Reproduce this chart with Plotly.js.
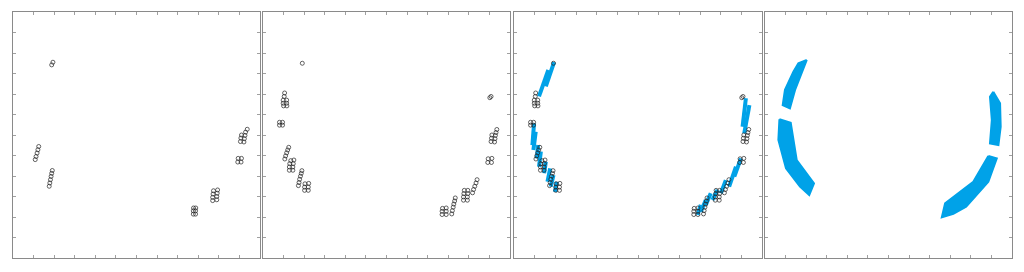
<!DOCTYPE html>
<html>
<head>
<meta charset="utf-8">
<script src="https://cdn.plot.ly/plotly-3.0.1.min.js"></script>
<style>html,body{margin:0;padding:0;background:#fff;}#chart{width:1024px;height:272px;}</style>
</head>
<body>
<div id="chart"></div>
<script>
// ---- Panel 1: detected points ----
const p1X = [1.88,1.94, 1.08,1.12,1.17,1.21,1.25, 1.76,1.79,1.82,1.85,1.88,1.91,
  8.76,8.87,8.76,8.87,8.77,8.88, 9.70,9.70,9.72,9.74,9.90,9.90,9.92,9.94,
  10.92,11.08,10.94,11.10, 11.05,11.07,11.10,11.22,11.24,11.27,11.30,11.38];
const p1Y = [9.42,9.55, 4.80,4.95,5.12,5.28,5.44, 3.50,3.66,3.82,3.98,4.13,4.27,
  2.14,2.14,2.30,2.30,2.44,2.44, 2.80,2.96,3.12,3.28,2.84,3.00,3.16,3.32,
  4.68,4.68,4.86,4.86, 5.68,5.85,6.00,5.66,5.82,5.98,6.14,6.28];

// ---- Panel 2 (and 3): detected points ----
const p2X = [1.91,
  1.05,1.03,0.98,1.15,0.98,1.15,1.00,1.16,
  0.80,0.95,0.80,0.95,
  1.06,1.10,1.15,1.20,1.25,
  1.28,1.45,1.28,1.45,1.30,1.47,1.50,1.35,
  1.72,1.75,1.78,1.82,1.86,1.89,
  2.02,2.20,2.02,2.20,2.04,2.22,
  8.70,8.90,8.70,8.90,8.72,8.90,
  9.17,9.20,9.24,9.27,9.31,9.34,
  9.74,9.93,9.74,9.93,9.76,9.95,9.78,9.95,
  10.18,10.23,10.29,10.35,10.40,
  10.92,11.10,10.94,11.12,
  11.08,11.10,11.12,11.25,11.27,11.29,11.32,11.36,
  11.02,11.08];
const p2Y = [9.50,
  8.05,7.88,7.70,7.70,7.55,7.55,7.42,7.42,
  6.62,6.62,6.48,6.48,
  4.83,4.98,5.13,5.27,5.40,
  4.28,4.28,4.44,4.44,4.60,4.60,4.78,4.75,
  3.53,3.68,3.84,3.99,4.13,4.26,
  3.30,3.30,3.46,3.46,3.62,3.64,
  2.12,2.12,2.28,2.28,2.42,2.44,
  2.15,2.31,2.48,2.63,2.78,2.93,
  2.82,2.82,2.98,2.98,3.14,3.14,3.30,3.30,
  3.18,3.34,3.50,3.66,3.82,
  4.66,4.66,4.84,4.86,
  5.68,5.84,6.00,5.66,5.82,5.98,6.12,6.27,
  7.82,7.88];

// ---- Panel 3: track segments (start -> end) ----
const s3X0 = [1.94,1.66, 0.97,1.05,1.17,1.30,1.54,1.75,1.91,2.07,
  11.22,11.39, 10.98,10.74,10.25,9.85,9.52,9.28,9.04];
const s3Y0 = [9.55,9.17, 6.57,6.16,5.51,5.19,4.70,4.37,4.05,3.72,
  7.79,7.46, 4.86,4.45,3.80,3.32,3.16,2.83,2.59];
const s3X1 = [1.54,1.21, 0.89,0.94,1.10,1.21,1.46,1.62,1.78,1.98,
  11.06,11.14, 10.66,10.41,10.01,9.60,9.28,9.04,8.88];
const s3Y1 = [8.37,7.88, 5.51,5.27,4.86,4.45,4.13,3.72,3.48,3.23,
  6.40,6.08, 3.97,3.48,3.16,2.83,2.59,2.26,2.10];

// ---- Panel 4: merged track bands (polygon outlines) ----
const bandA_X = [2.03,1.62,1.38,0.97,0.86,1.21,1.46,1.78,2.03];
const bandA_Y = [9.66,9.50,9.09,8.20,7.46,7.30,8.20,9.01,9.66];
const bandB_X = [0.70,0.65,1.02,1.70,2.15,2.38,1.54,1.25,0.70];
const bandB_Y = [6.77,5.76,4.37,3.48,3.07,3.64,4.78,6.60,6.77];
const bandC_X = [11.09,10.93,11.02,10.93,11.34,11.45,11.42,11.09];
const bandC_Y = [8.11,7.87,6.73,5.59,5.51,6.40,7.55,8.11];
const bandD_X = [10.85,10.12,8.75,8.59,9.15,9.77,10.85,11.26,10.85];
const bandD_Y = [4.98,3.72,2.67,1.99,2.15,2.50,3.72,4.86,4.98];

const BLUE = '#00A2E8';

function circles(x, y, ax) {
  return {type:'scatter', mode:'markers', x:x, y:y, xaxis:'x'+ax, yaxis:'y'+ax,
    marker:{symbol:'circle-open', size:4, color:'#222', line:{width:0.7, color:'#222'}},
    hoverinfo:'skip', showlegend:false};
}
function segs(x0,y0,x1,y1, ax) {
  const xs=[], ys=[];
  for (let i=0;i<x0.length;i++){ xs.push(x0[i],x1[i],null); ys.push(y0[i],y1[i],null); }
  return {type:'scatter', mode:'lines', x:xs, y:ys, xaxis:'x'+ax, yaxis:'y'+ax,
    line:{color:BLUE, width:4}, hoverinfo:'skip', showlegend:false};
}
function band(x, y, ax) {
  return {type:'scatter', mode:'lines', x:x, y:y, xaxis:'x'+ax, yaxis:'y'+ax,
    fill:'toself', fillcolor:BLUE, line:{color:BLUE, width:2, shape:'linear'},
    hoverinfo:'skip', showlegend:false};
}

const data = [
  circles(p1X,p1Y,''),
  circles(p2X,p2Y,'2'),
  segs(s3X0,s3Y0,s3X1,s3Y1,'3'),
  circles(p2X,p2Y,'3'),
  band(bandA_X,bandA_Y,'4'), band(bandB_X,bandB_Y,'4'),
  band(bandC_X,bandC_Y,'4'), band(bandD_X,bandD_Y,'4')
];

const W=1024, H=272;
const xd = [[13,260],[263,510],[514,762],[765,1012]];
const yd = [(H-258)/H, (H-12)/H];
function axis(dom, anchor) {
  return {domain:dom, range:[0,12], anchor:anchor, dtick:1, tick0:0,
    ticks:'inside', ticklen:3, tickwidth:1, tickcolor:'#a0a0a0',
    showticklabels:false, showline:true, linecolor:'#8a8a8a', linewidth:1,
    mirror:'ticks', showgrid:false, zeroline:false, fixedrange:true};
}
const layout = {width:W, height:H, margin:{l:0,r:0,t:0,b:0},
  paper_bgcolor:'#fff', plot_bgcolor:'#fff', showlegend:false};
const names = ['', '2', '3', '4'];
for (let i=0;i<4;i++){
  const n = names[i];
  layout['xaxis'+n] = axis([xd[i][0]/W, xd[i][1]/W], 'y'+n);
  layout['yaxis'+n] = axis(yd, 'x'+n);
}
Plotly.newPlot('chart', data, layout, {staticPlot:true, displayModeBar:false});
</script>
</body>
</html>
